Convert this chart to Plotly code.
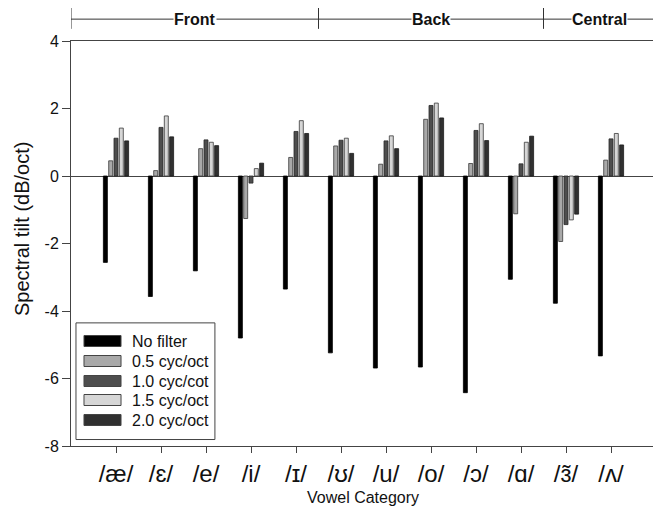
import plotly.graph_objects as go

categories = ["/æ/", "/ɛ/", "/e/", "/i/", "/ɪ/", "/ʊ/", "/u/", "/o/", "/ɔ/", "/ɑ/", "/ɜ̃/", "/ʌ/"]
series_names = ["No filter", "0.5 cyc/oct", "1.0 cyc/cot", "1.5 cyc/oct", "2.0 cyc/oct"]
no_filter = [-2.56, -3.57, -2.81, -4.80, -3.35, -5.24, -5.69, -5.66, -6.42, -3.06, -3.77, -5.33]
cyc05 = [0.45, 0.16, 0.81, -1.26, 0.55, 0.89, 0.35, 1.68, 0.37, -1.12, -1.94, 0.47]
cyc10 = [1.12, 1.44, 1.07, -0.21, 1.32, 1.06, 1.04, 2.09, 1.35, 0.36, -1.44, 1.10]
cyc15 = [1.42, 1.78, 1.00, 0.22, 1.64, 1.12, 1.19, 2.16, 1.55, 1.00, -1.30, 1.26]
cyc20 = [1.04, 1.16, 0.90, 0.38, 1.26, 0.67, 0.81, 1.72, 1.05, 1.18, -1.13, 0.92]
y_ticks = [4, 2, 0, -2, -4, -6, -8]
y_ticktext = ["4", "2", "0", "-2", "-4", "-6", "-8"]
groups = ["Front", "Back", "Central"]
group_bounds = [-1, 4.5, 9.5, 12]

series = [no_filter, cyc05, cyc10, cyc15, cyc20]
fills = ["#000000", "#a9a9a9", "#4e4e4e", "#d6d6d6", "#303030"]
lines = ["#000000", "#3a3a3a", "#2a2a2a", "#3a3a3a", "#1a1a1a"]

fig = go.Figure()
for name, vals, fc, lc in zip(series_names, series, fills, lines):
    fig.add_trace(go.Bar(x=categories, y=vals, name=name,
                         marker=dict(color=fc, line=dict(color=lc, width=0.8)),
                         showlegend=False))

FONT = "Liberation Sans, Arial, DejaVu Sans, sans-serif"

shapes = []
annotations = []

# custom legend box (SigmaPlot style)
shapes.append(dict(type="rect", xref="paper", yref="paper", x0=0.0085, x1=0.246,
                   y0=0.016, y1=0.304, line=dict(color="#444", width=1), fillcolor="white"))
row_px = [341, 361, 381, 400, 420]
for i, (name, fc) in enumerate(zip(series_names, fills)):
    yc = (446 - row_px[i]) / 405
    h = 5.5 / 405
    shapes.append(dict(type="rect", xref="paper", yref="paper", x0=0.0222, x1=0.0855,
                       y0=yc - h, y1=yc + h, fillcolor=fc, line=dict(color="#444", width=1)))
    annotations.append(dict(xref="paper", yref="paper", x=0.1009, y=yc, text=name,
                            showarrow=False, xanchor="left", yanchor="middle",
                            font=dict(size=16, color="#111", family=FONT)))

# group header brackets
yl = 1.054
for i, g in enumerate(groups):
    a, b = group_bounds[i], group_bounds[i + 1]
    shapes.append(dict(type="line", xref="x", yref="paper", x0=a, x1=b, y0=yl, y1=yl,
                       line=dict(color="#333", width=1)))
    annotations.append(dict(xref="x", yref="paper", x=(a + b) / 2, y=yl, text="<b>%s</b>" % g,
                            showarrow=False, xanchor="center", yanchor="middle",
                            bgcolor="white", borderpad=0,
                            font=dict(size=16, color="#111", family=FONT)))
for xb in group_bounds:
    shapes.append(dict(type="line", xref="x", yref="paper", x0=xb, x1=xb, y0=1.030, y1=1.084,
                       line=dict(color="#333", width=1)))

# axis titles
annotations.append(dict(xref="paper", yref="paper", x=0.499, y=-0.128, text="Vowel Category",
                        showarrow=False, xanchor="center", yanchor="middle",
                        font=dict(size=16, color="#111", family=FONT)))
annotations.append(dict(xref="paper", yref="paper", x=-0.0838, y=0.538,
                        text="Spectral tilt (dB/oct)", textangle=-90,
                        showarrow=False, xanchor="center", yanchor="middle",
                        font=dict(size=20, color="#111", family=FONT)))

fig.update_layout(
    width=653, height=504,
    margin=dict(l=63, r=5, t=33, b=66),
    paper_bgcolor="white", plot_bgcolor="white",
    barmode="group", bargap=0.41, bargroupgap=0.25,
    shapes=shapes, annotations=annotations,
    showlegend=False,
    font=dict(family=FONT, color="#111"),
)
fig.update_xaxes(range=[-1, 12], showline=True, linecolor="#444", linewidth=1, mirror=True,
                 ticks="outside", ticklen=6, tickcolor="#444", showgrid=False,
                 tickfont=dict(size=24, family="Liberation Sans, DejaVu Sans, sans-serif", color="#111"))
fig.update_yaxes(range=[-8, 4], tickvals=y_ticks, ticktext=y_ticktext,
                 showline=True, linecolor="#444", linewidth=1, mirror=True,
                 ticks="outside", ticklen=8, tickcolor="#444", showgrid=False,
                 zeroline=True, zerolinecolor="#444", zerolinewidth=1,
                 tickfont=dict(size=16, color="#111", family=FONT))

fig.write_html("out.html")
